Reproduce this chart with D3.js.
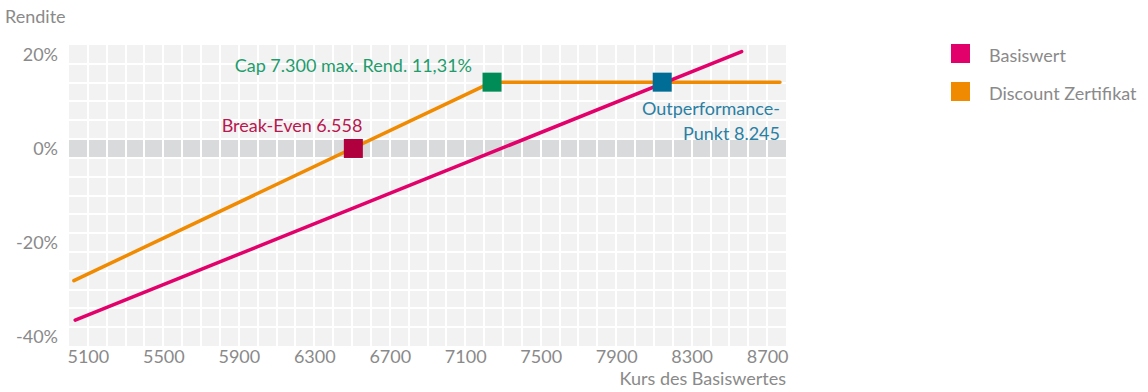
<!DOCTYPE html>
<html>
<head>
<meta charset="utf-8">
<script src="https://cdn.jsdelivr.net/npm/d3@7"></script>
<style>
  body { margin: 0; background: #fff; }
  svg text { font-family: Lato, "Open Sans", sans-serif; font-weight: 400; }
</style>
</head>
<body>
<div id="chart"></div>
<script>
(function() {
  // values
  const kursTicks = [5100, 5500, 5900, 6300, 6700, 7100, 7500, 7900, 8300, 8700];
  const renditeTicks = [20, 0, -20, -40];
  const basiswert = [[5033, -36.5], [8565, 20.6]];
  const discount = [[5026, -28.1], [7242, 14.1], [8768, 14.1]];
  const markerNames = ["breakEven", "cap", "outperformance"];
  const markerKurs = [6507, 7242, 8144];
  const markerRendite = [0, 14.1, 14.1];
  const legendNames = ["Basiswert", "Discount Zertifikat"];

  const W = 1148, H = 392;
  const plot = {left: 69, right: 786, top: 45, bottom: 346};
  const fs = "18px";
  const grey = "#8a8a8a";

  const svg = d3.select("#chart").append("svg")
    .attr("width", W).attr("height", H);

  const x = d3.scaleLinear().domain([5000, 8800]).range([plot.left, plot.right]);
  const y = d3.scaleLinear().domain([-42, 22]).range([plot.bottom, plot.top]);

  // background cells
  svg.append("rect")
    .attr("x", plot.left).attr("y", plot.top)
    .attr("width", plot.right - plot.left).attr("height", plot.bottom - plot.top)
    .attr("fill", "#f2f2f2");
  svg.append("rect")
    .attr("x", plot.left).attr("y", Math.round(y(2)))
    .attr("width", plot.right - plot.left).attr("height", Math.round(y(-2)) - Math.round(y(2)))
    .attr("fill", "#d9dadc");

  const grid = svg.append("g").attr("stroke", "#fff").attr("stroke-width", 2);
  grid.selectAll(".v").data(d3.range(5100, 8800, 100)).enter().append("line")
    .attr("x1", d => Math.round(x(d))).attr("x2", d => Math.round(x(d)))
    .attr("y1", plot.top).attr("y2", plot.bottom);
  grid.selectAll(".h").data(d3.range(18, -42, -4)).enter().append("line")
    .attr("y1", d => Math.round(y(d))).attr("y2", d => Math.round(y(d)))
    .attr("x1", plot.left).attr("x2", plot.right);

  // axes (text only)
  const xAxis = svg.append("g")
    .attr("transform", `translate(0,${plot.bottom})`)
    .call(d3.axisBottom(x).tickValues(kursTicks).tickSize(0).tickPadding(4).tickFormat(d3.format("d")));
  xAxis.select(".domain").remove();
  xAxis.selectAll("text").style("font-size", fs).attr("fill", grey)
    .style("font-family", "Lato, sans-serif").style("font-weight", 400);

  const yAxis = svg.append("g")
    .attr("transform", `translate(${plot.left},0)`)
    .call(d3.axisLeft(y).tickValues(renditeTicks).tickSize(0).tickPadding(11).tickFormat(d => d + "%"));
  yAxis.select(".domain").remove();
  yAxis.selectAll("text").style("font-size", fs).attr("fill", grey)
    .style("font-family", "Lato, sans-serif").style("font-weight", 400);

  svg.append("text").attr("x", 5).attr("y", 23)
    .style("font-size", fs).attr("fill", grey).text("Rendite");
  svg.append("text").attr("x", plot.right).attr("y", 385).attr("text-anchor", "end")
    .style("font-size", fs).attr("fill", grey).text("Kurs des Basiswertes");

  // lines
  const line = d3.line().x(d => x(d[0])).y(d => y(d[1]));
  svg.append("path").datum(discount).attr("d", line)
    .attr("fill", "none").attr("stroke", "#f08a00").attr("stroke-width", 3.5)
    .attr("stroke-linecap", "round").attr("stroke-linejoin", "round");
  svg.append("path").datum(basiswert).attr("d", line)
    .attr("fill", "none").attr("stroke", "#e2006b").attr("stroke-width", 3.5)
    .attr("stroke-linecap", "round");

  // markers
  const markerColor = {breakEven: "#b0003d", cap: "#008c57", outperformance: "#006d96"};
  const markers = markerNames.map((n, i) => ({name: n, kurs: markerKurs[i], rendite: markerRendite[i]}));
  svg.selectAll(".marker").data(markers).enter().append("rect")
    .attr("class", "marker")
    .attr("x", d => x(d.kurs) - 9.5).attr("y", d => y(d.rendite) - 9.5)
    .attr("width", 19).attr("height", 19)
    .attr("fill", d => markerColor[d.name]);

  const bx = x(markerKurs[0]), cx = x(markerKurs[1]);
  svg.append("text").attr("x", bx + 9).attr("y", y(markerRendite[0]) - 16.5)
    .attr("text-anchor", "end").style("font-size", fs).attr("fill", "#b8174f")
    .text("Break-Even 6.558");
  svg.append("text").attr("x", cx - 20).attr("y", y(markerRendite[1]) - 10.5)
    .attr("text-anchor", "end").style("font-size", fs).attr("fill", "#1f9c6c")
    .text("Cap 7.300 max. Rend. 11,31%");
  svg.append("text").attr("x", plot.right - 6).attr("y", y(markerRendite[2]) + 33)
    .attr("text-anchor", "end").style("font-size", fs).attr("fill", "#2a7fa3")
    .text("Outperformance-");
  svg.append("text").attr("x", plot.right - 6).attr("y", y(markerRendite[2]) + 58)
    .attr("text-anchor", "end").style("font-size", fs).attr("fill", "#2a7fa3")
    .text("Punkt 8.245");

  // legend
  const legendColor = ["#e2006b", "#f08a00"];
  const legend = svg.append("g").attr("transform", "translate(951,44)");
  legend.selectAll("rect").data(legendNames).enter().append("rect")
    .attr("x", 0).attr("y", (d, i) => i * 38)
    .attr("width", 19).attr("height", 19)
    .attr("fill", (d, i) => legendColor[i]);
  legend.selectAll("text").data(legendNames).enter().append("text")
    .attr("x", 38).attr("y", (d, i) => i * 38 + 18)
    .style("font-size", fs).attr("fill", grey)
    .text(d => d);
})();
</script>
</body>
</html>
